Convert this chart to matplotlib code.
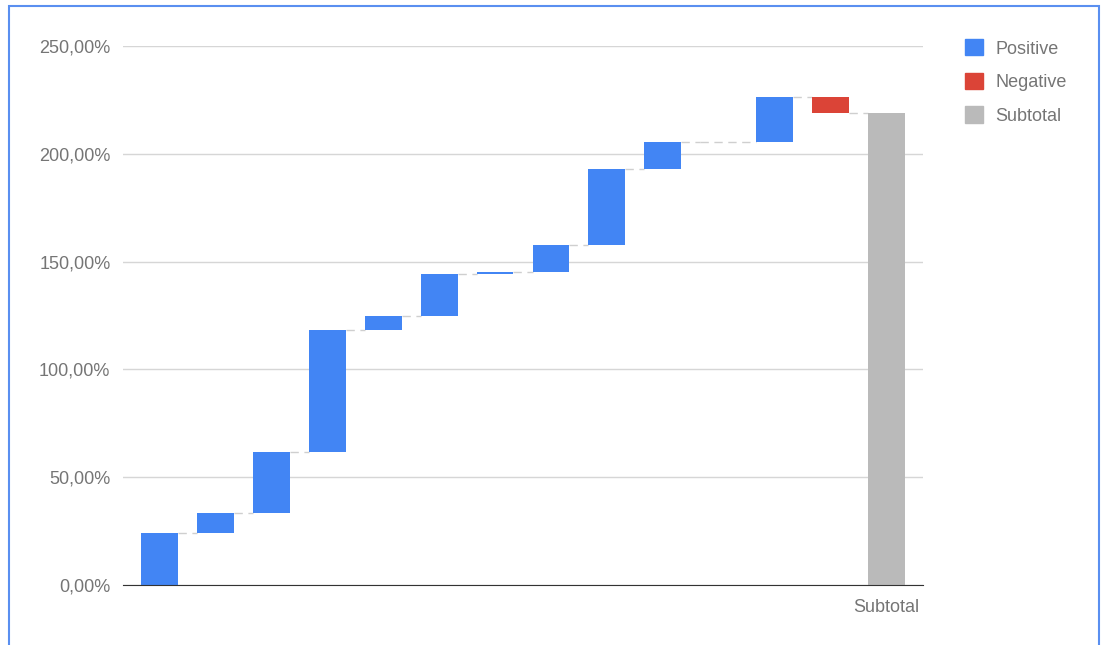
import matplotlib.pyplot as plt
from matplotlib.patches import Patch, Rectangle
from matplotlib.ticker import FuncFormatter

# step changes (percentage points); the last column is the running subtotal
steps = [24.0, 9.6, 28.0, 56.9, 6.1, 19.7, 0.7, 12.8, 35.1, 12.6, 0.0, 20.7, -7.1]
labels = [""] * len(steps) + ["Subtotal"]

BLUE = "#4285f4"
RED = "#db4437"
GREY = "#bababa"
TEXT = "#757575"

plt.rcParams["font.family"] = ["Liberation Sans", "DejaVu Sans"]

fig = plt.figure(figsize=(11.02, 6.45), dpi=100)
ax = fig.add_axes([123 / 1102, 1 - 585 / 645, 800 / 1102, 539 / 645])

width = 0.66
total = 0.0
levels = []
for i, d in enumerate(steps):
    bottom = total if d >= 0 else total + d
    ax.bar(i, abs(d), bottom=bottom, width=width,
           color=BLUE if d >= 0 else RED, zorder=3)
    total += d
    levels.append(total)

n = len(steps)
ax.bar(n, total, width=width, color=GREY, zorder=3)

# dashed connectors between consecutive bars
for i, lvl in enumerate(levels):
    x0 = i + width / 2
    x1 = i + 1 - width / 2
    if steps[i] == 0:
        x0 = i - width / 2
    ax.plot([x0, x1], [lvl, lvl], color="#cfcfcf", lw=1,
            dashes=(6, 4), zorder=2)

ax.set_xlim(-0.653, n + 0.653)
ax.set_ylim(0, 250)
ax.set_yticks([0, 50, 100, 150, 200, 250])
ax.yaxis.set_major_formatter(
    FuncFormatter(lambda v, _: f"{v:.2f}".replace(".", ",") + "%"))
ax.set_xticks(range(n + 1))
ax.set_xticklabels(labels)
ax.tick_params(length=0, labelsize=13, labelcolor=TEXT)
ax.tick_params(axis="y", pad=9)
ax.tick_params(axis="x", pad=10)

ax.grid(axis="y", color="#d6d6d6", lw=1, zorder=0)
for side in ["top", "right", "left"]:
    ax.spines[side].set_visible(False)
ax.spines["bottom"].set_color("#333333")
ax.spines["bottom"].set_zorder(4)

handles = [Patch(color=BLUE, label="Positive"),
           Patch(color=RED, label="Negative"),
           Patch(color=GREY, label="Subtotal")]
leg = fig.legend(handles=handles, loc="upper left",
                 bbox_to_anchor=(949 / 1102, 1 - 23 / 645),
                 frameon=False, fontsize=13, handlelength=1.0,
                 handleheight=1.0, handletextpad=0.65, labelspacing=0.85)
for t in leg.get_texts():
    t.set_color(TEXT)

# selection frame around the chart
fig.patches.append(Rectangle((9 / 1102, -0.05), 1090 / 1102, 1.05 - 6 / 645,
                             transform=fig.transFigure, fill=False,
                             edgecolor="#5a8ff0", lw=1.5))

fig.savefig("out.png", dpi=100)
